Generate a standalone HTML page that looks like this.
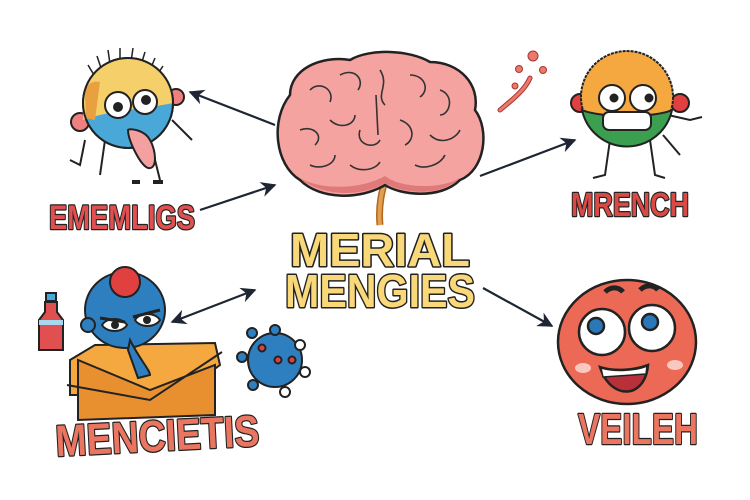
<!DOCTYPE html>
<html><head><meta charset="utf-8"><style>
html,body{margin:0;padding:0;background:#fff;}
svg{display:block}
text{font-family:"Liberation Sans Narrow","Liberation Sans",sans-serif;font-weight:bold;paint-order:stroke;stroke:#222;stroke-linejoin:round}
</style></head><body>
<svg width="750" height="500" viewBox="0 0 750 500" xmlns="http://www.w3.org/2000/svg">
<defs>
<marker id="ah" viewBox="0 0 10 10" refX="9" refY="5" markerWidth="7" markerHeight="7" orient="auto-start-reverse"><path d="M0,0 L10,5 L0,10 L3,5z" fill="#1e2533"/></marker>
</defs>
<g stroke="#1e2533" stroke-width="2.2" fill="none">
<line x1="275" y1="125" x2="190" y2="92" marker-end="url(#ah)"/>
<line x1="200" y1="210" x2="275" y2="185" marker-end="url(#ah)"/>
<line x1="172" y1="322" x2="255" y2="290" marker-end="url(#ah)" marker-start="url(#ah)"/>
<line x1="480" y1="176" x2="575" y2="140" marker-end="url(#ah)"/>
<line x1="483" y1="288" x2="552" y2="326" marker-end="url(#ah)"/>
</g>
<path d="M380,225 C378,205 382,190 388,170" stroke="#b5651d" stroke-width="7" fill="none"/>
<path d="M380,225 C378,205 382,190 388,170" stroke="#e0a050" stroke-width="4" fill="none"/>
<path d="M290,95 C290,70 320,55 350,60 C370,48 410,50 430,62 C460,62 480,85 475,110 C490,130 485,170 460,180 C440,200 400,195 385,185 C360,200 320,200 300,180 C275,165 270,120 290,95z" fill="#f4a3a0" stroke="#222" stroke-width="2.5"/>
<path d="M300,178 C320,196 360,198 385,183 C400,193 440,198 460,178 C440,190 400,188 385,176 C360,190 320,190 300,178z" fill="#e07a7a"/>
<g stroke="#333" stroke-width="1.6" fill="none">
<path d="M310,90 c10,-10 25,0 20,12 M340,75 c15,-8 25,5 18,15 M380,70 c10,15 -5,25 5,35 M410,75 c15,0 20,15 10,22 M440,90 c15,5 10,25 0,25 M300,130 c12,-5 25,5 15,15 M330,120 c10,10 25,5 25,-5 M360,130 c-5,15 15,20 20,10 M400,120 c15,5 15,20 5,25 M430,135 c10,10 25,5 30,-5 M310,165 c10,5 25,0 25,-10 M350,165 c10,8 25,5 30,-3 M415,165 c10,5 25,0 30,-10 M376,95 l2,40"/>
</g>
<text x="380" y="266" text-anchor="middle" font-size="46" fill="#f8d878" stroke-width="3" textLength="180" lengthAdjust="spacingAndGlyphs">MERIAL</text>
<text x="380" y="307" text-anchor="middle" font-size="46" fill="#f8d878" stroke-width="3" textLength="190" lengthAdjust="spacingAndGlyphs">MENGIES</text>
<g stroke="#222" stroke-width="2">
<g stroke-width="1.5"><line x1="120" y1="48" x2="120" y2="62"/><line x1="108" y1="50" x2="110" y2="64"/><line x1="133" y1="48" x2="131" y2="62"/><line x1="145" y1="52" x2="141" y2="65"/><line x1="155" y1="58" x2="150" y2="70"/><line x1="97" y1="56" x2="101" y2="68"/><line x1="88" y1="65" x2="94" y2="75"/><line x1="163" y1="66" x2="157" y2="75"/></g>
<circle cx="80" cy="122" r="9" fill="#f08080"/><circle cx="176" cy="97" r="8" fill="#f08080"/>
<path d="M105,140 L100,175 M150,140 L160,180 M85,140 L80,165 L70,160 M172,120 L192,140" fill="none"/>
<circle cx="128" cy="103" r="45" fill="#4aa8d8"/>
<path d="M83,103 A45,45 0 0,1 173,103 C150,108 110,110 83,120z" fill="#f5d06a" stroke="none"/>
<path d="M85,95 C85,85 92,80 100,82 L95,120 L86,118z" fill="#e8a040" stroke="none"/>
<circle cx="128" cy="103" r="45" fill="none"/>
<circle cx="118" cy="105" r="13" fill="#fff"/><circle cx="145" cy="102" r="12" fill="#fff"/>
<circle cx="118" cy="107" r="4" fill="#222"/><circle cx="146" cy="100" r="4" fill="#222"/>
<path d="M128,130 C128,140 140,165 148,168 C158,170 156,150 150,140 C145,130 130,128 128,130z" fill="#f4a0a0"/>
<path d="M132,182 l8,0 M153,182 l10,0" stroke-width="4"/>
</g>
<text x="122" y="229" text-anchor="middle" font-size="34" fill="#e05050" stroke-width="2.5" textLength="146" lengthAdjust="spacingAndGlyphs">EMEMLIGS</text>
<g stroke="#222" stroke-width="2">
<rect x="46" y="293" width="10" height="8" fill="#4aa8d8"/>
<path d="M45,302 h12 v10 l6,8 v30 h-24 v-30 l6,-8z" fill="#e05050"/>
<path d="M39,320 h24 v5 h-24z" fill="#a8d8f0" stroke="none"/>
<path d="M70,360 L95,345 L215,343 L220,365 L180,395 L70,395z" fill="#f5a840"/>
<path d="M78,360 L78,420 L215,415 L215,365 L150,390z" fill="#e89030"/>
<path d="M67,385 L150,400 L222,352" fill="none"/>
<ellipse cx="125" cy="310" rx="40" ry="38" fill="#2e7fbf"/>
<circle cx="88" cy="325" r="7" fill="#2e7fbf"/>
<path d="M130,340 C140,360 150,370 150,375 L138,378 L128,350z" fill="#2e7fbf"/>
<path d="M102,325 c5,-8 20,-8 25,0 c-5,8 -20,8 -25,0z M135,320 c5,-8 20,-8 25,0 c-5,8 -20,8 -25,0z" fill="#fff"/>
<circle cx="115" cy="325" r="3" fill="#222"/><circle cx="147" cy="320" r="3" fill="#222"/>
<path d="M100,318 L125,322 M133,317 L160,310" stroke-width="3"/>
<circle cx="125" cy="282" r="15" fill="#e04040"/>
</g>
<g stroke="#222" stroke-width="2" fill="#2e7fbf">
<circle cx="275" cy="360" r="27"/>
<circle cx="275" cy="330" r="5"/><circle cx="300" cy="345" r="5" fill="#fff"/><circle cx="305" cy="372" r="5" fill="#fff"/><circle cx="285" cy="392" r="5" fill="#fff"/><circle cx="253" cy="385" r="5"/><circle cx="242" cy="357" r="5"/><circle cx="252" cy="333" r="5"/>
<circle cx="262" cy="348" r="3.5" fill="#e04040"/><circle cx="278" cy="360" r="3.5" fill="#e04040"/><circle cx="292" cy="360" r="3.5" fill="#e04040"/>
</g>
<text x="157" y="451" text-anchor="middle" font-size="44" fill="#ea7560" stroke-width="2.5" textLength="204" lengthAdjust="spacingAndGlyphs" transform="rotate(-3 157 430)">MENCIETIS</text>
<g fill="#ea7a6a" stroke="#a33" stroke-width="1">
<circle cx="533" cy="56" r="5"/><circle cx="519" cy="69" r="3.5"/><circle cx="543" cy="70" r="3.5"/><circle cx="515" cy="86" r="3"/>
</g>
<path d="M500,110 C512,100 525,90 530,78" stroke="#a33" stroke-width="5" fill="none" stroke-linecap="round"/>
<path d="M500,110 C512,100 525,90 530,78" stroke="#ea7a6a" stroke-width="3" fill="none" stroke-linecap="round"/>
<g stroke="#222" stroke-width="2" fill="none">
<path d="M610,140 L605,175 L593,178 M650,140 L655,175 L665,178 M668,115 L690,120 L702,117 M663,135 L680,155"/>
<circle cx="580" cy="103" r="9" fill="#e04040"/><circle cx="680" cy="103" r="9" fill="#e04040"/>
<circle cx="627" cy="97" r="46" fill="#f5a840" stroke-dasharray="3 1"/>
<path d="M582,110 C600,118 655,118 672,110 A46,46 0 0,1 582,110z" fill="#3aa050"/>
<rect x="603" y="112" width="48" height="18" rx="6" fill="#fff"/>
<circle cx="612" cy="98" r="13" fill="#fff"/><circle cx="643" cy="98" r="13" fill="#fff"/>
<circle cx="614" cy="98" r="3.5" fill="#222"/><circle cx="649" cy="98" r="3.5" fill="#222"/>
</g>
<text x="630" y="216" text-anchor="middle" font-size="33" fill="#d94a45" stroke-width="2.5" textLength="118" lengthAdjust="spacingAndGlyphs">MRENCH</text>
<g stroke="#222" stroke-width="2.5">
<ellipse cx="627" cy="342" rx="69" ry="62" fill="#ec6a55"/>
<circle cx="602" cy="332" r="23" fill="#fff"/><circle cx="652" cy="328" r="23" fill="#fff"/>
<circle cx="596" cy="326" r="8" fill="#2a78b8"/><circle cx="650" cy="322" r="8" fill="#2a78b8"/>
<path d="M600,367 C610,400 645,400 648,365 C635,370 615,372 600,367z" fill="#b8303a"/>
<path d="M601,368 C615,372 635,371 647,366 L646,374 L603,377z" fill="#fff" stroke-width="1.5"/>
<path d="M605,292 c6,-6 14,-5 18,0 M640,290 c6,-6 14,-5 18,0" fill="none" stroke-width="5"/>
</g>
<ellipse cx="583" cy="368" rx="8" ry="5" fill="#fbc8c0"/><ellipse cx="675" cy="365" rx="8" ry="5" fill="#fbc8c0"/>
<text x="638" y="444" text-anchor="middle" font-size="44" fill="#ea7560" stroke-width="2.5" textLength="120" lengthAdjust="spacingAndGlyphs">VEILEH</text>
</svg>
</body></html>
